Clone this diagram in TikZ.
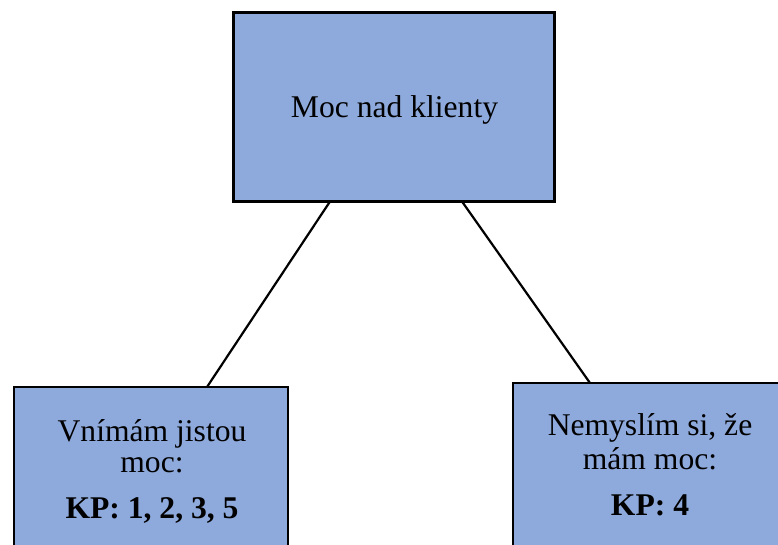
\documentclass[tikz,border=0pt]{standalone}
\usepackage{fontspec}
\setmainfont{Liberation Serif}
\definecolor{boxblue}{HTML}{8EA9DB}
\tikzset{
  box/.style={draw=black, fill=boxblue, line width=2.6pt, inner sep=0pt, outer sep=0pt, anchor=north west},
  lbl/.style={anchor=base, inner sep=0pt, font=\fontsize{31.6}{36}\selectfont},
  boldlbl/.style={lbl, font=\fontsize{31.6}{36}\selectfont\bfseries},
  link/.style={draw=black, line width=2.2pt}
}
\begin{document}
\begin{tikzpicture}[x=1pt,y=-1pt]
\useasboundingbox (0,0) rectangle (778,544);
\node[box, minimum width=321pt, minimum height=189pt] (top) at (233.5,12.5) {};
\node[box, minimum width=274pt, minimum height=190pt] (left) at (14,387) {};
\node[box, minimum width=274pt, minimum height=190pt] (right) at (513,383) {};
\node[lbl] (t1) at (394.5,117) {Moc nad klienty};
\node[lbl] (l1) at (152,441) {Vnímám jistou};
\node[lbl] (l2) at (152,472) {moc:};
\node[boldlbl] (l3) at (152,518) {KP: 1, 2, 3, 5};
\node[lbl] (r1) at (650,435) {Nemyslím si, že};
\node[lbl] (r2) at (650,469) {mám moc:};
\node[boldlbl] (r3) at (650,515) {KP: 4};
\draw[link] ([xshift=-64pt]top.south) -- ([xshift=56pt]left.north);
\draw[link] ([xshift=68pt]top.south) -- ([xshift=-60pt]right.north);
\end{tikzpicture}
\end{document}
